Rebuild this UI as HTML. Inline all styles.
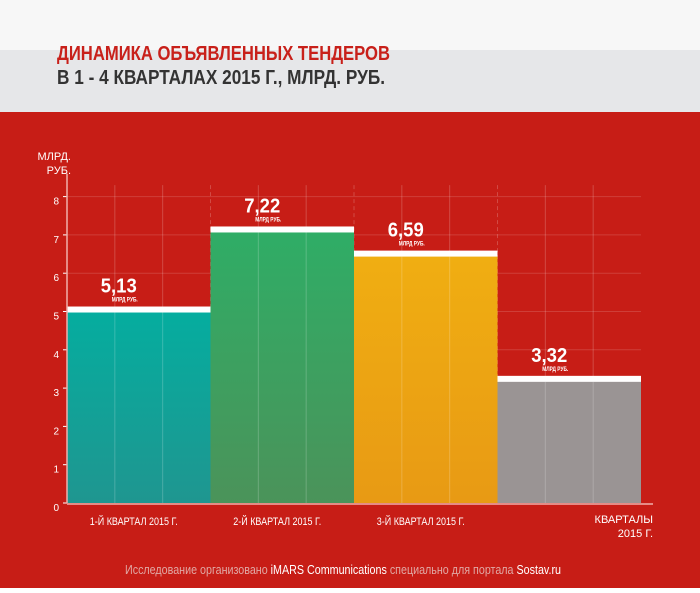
<!DOCTYPE html>
<html><head><meta charset="utf-8"><style>
body{margin:0;width:700px;height:588px;overflow:hidden;font-family:"Liberation Sans",sans-serif;}
svg text{font-family:"Liberation Sans",sans-serif;}
</style></head><body>
<svg id="chart" width="700" height="588">
<defs>
<linearGradient id="g0" x1="0" y1="0" x2="0" y2="1"><stop offset="0" stop-color="#05ad9f"/><stop offset="1" stop-color="#1f9690"/></linearGradient>
<linearGradient id="g1" x1="0" y1="0" x2="0" y2="1"><stop offset="0" stop-color="#2fad66"/><stop offset="1" stop-color="#4b935a"/></linearGradient>
<linearGradient id="g2" x1="0" y1="0" x2="0" y2="1"><stop offset="0" stop-color="#f0ae12"/><stop offset="1" stop-color="#e89a14"/></linearGradient>
<linearGradient id="g3" x1="0" y1="0" x2="0" y2="1"><stop offset="0" stop-color="#9a9494"/><stop offset="1" stop-color="#9a9494"/></linearGradient>
</defs>
<rect x="0" y="0" width="700" height="50" fill="#f7f7f7"/>
<rect x="0" y="50" width="700" height="62" fill="#e6e7e9"/>
<rect x="0" y="112" width="700" height="476" fill="#c71d16"/>
<text x="57" y="60" font-size="20" font-weight="bold" fill="#c8201a" textLength="333" lengthAdjust="spacingAndGlyphs">ДИНАМИКА ОБЪЯВЛЕННЫХ ТЕНДЕРОВ</text>
<text x="57" y="84" font-size="20" font-weight="bold" fill="#333" textLength="328" lengthAdjust="spacingAndGlyphs">В 1 - 4 КВАРТАЛАХ 2015 Г., МЛРД. РУБ.</text>
<text x="71" y="160" font-size="11" fill="#fff" text-anchor="end"><tspan x="71">МЛРД.</tspan><tspan x="71" dy="14">РУБ.</tspan></text>
<g id="grid"></g><g id="bars"></g><g id="axes"></g>
<text x="653" y="523" font-size="11" fill="#fff" text-anchor="end"><tspan x="653">КВАРТАЛЫ</tspan><tspan x="653" dy="14">2015 Г.</tspan></text>
<text x="125" y="574" font-size="13" fill="#e0a8a4" textLength="436" lengthAdjust="spacingAndGlyphs">Исследование организовано <tspan fill="#fff">iMARS Communications</tspan> специально для портала <tspan fill="#fff">Sostav.ru</tspan></text>
</svg>
<script>
const categories=["1-Й КВАРТАЛ 2015 Г.","2-Й КВАРТАЛ 2015 Г.","3-Й КВАРТАЛ 2015 Г.",""];
const values=[5.13,7.22,6.59,3.32];
const valueLabels=["5,13","7,22","6,59","3,32"];
const yTicks=[0,1,2,3,4,5,6,7,8];
const NS="http://www.w3.org/2000/svg";
const x0=67,bw=143.5,y0=503,ppu=38.3;
const y=v=>y0-v*ppu, x=i=>x0+i*bw;
function mk(p,t,a){const e=document.createElementNS(NS,t);for(const k in a)e.setAttribute(k,a[k]);document.getElementById(p).appendChild(e);return e;}
yTicks.forEach(t=>{if(t>0){const l=mk('grid','line',{x1:x0,x2:x0+4*bw,y1:y(t),y2:y(t),stroke:'rgba(255,255,255,0.15)'});

}
const tk=mk('axes','line',{x1:x0-4,x2:x0,y1:y(t),y2:y(t),stroke:'#fff'});


const tl=mk('axes','text',{x:x0-8,y:y(t)+8,'font-size':10,fill:'#fff','text-anchor':'end'});tl.textContent=t;

});
for(let j=1;j<12;j++){const gx=x0+j*bw/3;const l=mk('grid','line',{x1:gx,x2:gx,y1:y(8.3),y2:y0,stroke:'rgba(255,255,255,0.2)','stroke-dasharray':j%3==0?'4,3':''});

}
values.forEach((v,i)=>{
const r=mk('bars','rect',{x:x(i),y:y(v)+5,width:bw,height:y0-y(v)-5,fill:'url(#g'+i+')'});


const w=mk('bars','rect',{x:x(i),y:y(v),width:bw,height:6,fill:'#fff'});


for(let j=1;j<3;j++){const gx=x(i)+j*bw/3;const l=mk('bars','line',{x1:gx,x2:gx,y1:y(v)+6,y2:y0,stroke:'rgba(255,255,255,0.2)'});

}
const cx=x(i)+bw/2-20;
const t=mk('bars','text',{x:cx,y:y(v)-14,'font-size':20,'font-weight':'bold',fill:'#fff','text-anchor':'middle',textLength:36,lengthAdjust:'spacingAndGlyphs'});t.textContent=valueLabels[i];


const u=mk('bars','text',{x:cx+6,y:y(v)-5,'font-size':6,'font-weight':'bold',fill:'#fff','text-anchor':'middle',textLength:26,lengthAdjust:'spacingAndGlyphs'});u.textContent='МЛРД РУБ.';


if(categories[i]){const c=mk('axes','text',{x:x(i)+bw/2-5,y:525,'font-size':11,fill:'#fff','text-anchor':'middle',textLength:88,lengthAdjust:'spacingAndGlyphs'});c.textContent=categories[i];

}
});
const ya=mk('axes','line',{x1:x0,x2:x0,y1:y(8.6),y2:y0,stroke:'#f0b0ac','stroke-width':1.5});


const xa=mk('axes','line',{x1:x0,x2:653,y1:y0+1,y2:y0+1,stroke:'#f0b0ac','stroke-width':1.5});


</script>
</body></html>
